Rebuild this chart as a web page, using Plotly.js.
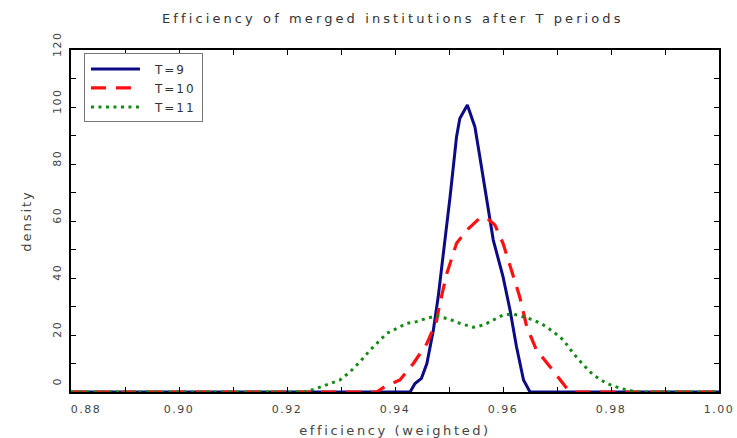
<!DOCTYPE html>
<html>
<head>
<meta charset="utf-8">
<script src="https://cdn.plot.ly/plotly-3.0.1.min.js"></script>
<style>
  html, body { margin: 0; padding: 0; background: #fff; }
  #chart { width: 737px; height: 438px; }
  .gtitle { letter-spacing: 3.1px; }
  .xtitle { letter-spacing: 2.6px; }
  .ytitle { letter-spacing: 2px; }
  .xtick text, .ytick text { letter-spacing: 1.5px; }
  .legendtext { letter-spacing: 2px; }
</style>
</head>
<body>
<div id="chart"></div>
<script>
// T = 9
const x9 = [0.880, 0.9428, 0.9437, 0.9449, 0.9459, 0.9471, 0.9480, 0.9489, 0.9502, 0.9514, 0.9520, 0.9534, 0.9548, 0.9557, 0.9570, 0.9582, 0.9600, 0.9613, 0.9625, 0.9638, 0.9650, 1.000];
const y9 = [0, 0, 3.0, 4.8, 10.0, 21.7, 33.4, 47.5, 68.5, 89.6, 96.0, 100.7, 93.0, 82.6, 67.4, 53.3, 40.5, 28.8, 15.9, 4.2, 0, 0];
// T = 10
const x10 = [0.880, 0.9366, 0.9381, 0.9409, 0.9434, 0.9459, 0.9477, 0.9483, 0.9496, 0.9514, 0.9533, 0.9557, 0.9570, 0.9585, 0.9600, 0.9616, 0.9631, 0.9644, 0.9662, 0.9687, 0.9706, 0.9718, 0.9726, 1.000];
const y10 = [0, 0, 1.9, 4.2, 10.0, 17.0, 25.0, 31.0, 41.6, 52.2, 56.8, 61.0, 61.0, 58.6, 52.2, 42.8, 33.4, 22.9, 14.7, 8.9, 4.2, 1.3, 0, 0];
// T = 11
const x11 = [0.880, 0.9230, 0.9249, 0.9273, 0.9298, 0.9317, 0.9335, 0.9354, 0.9372, 0.9385, 0.9403, 0.9422, 0.9440, 0.9459, 0.9477, 0.9502, 0.9520, 0.9545, 0.9564, 0.9582, 0.9600, 0.9619, 0.9638, 0.9656, 0.9675, 0.9693, 0.9712, 0.9730, 0.9749, 0.9767, 0.9792, 0.9817, 0.9848, 1.000];
const y11 = [0, 0, 0.9, 2.5, 4.2, 7.1, 10.6, 14.7, 18.2, 20.6, 22.3, 24.1, 24.7, 25.9, 26.7, 25.5, 24.1, 22.7, 23.5, 25.3, 27.0, 27.4, 26.4, 25.3, 23.5, 21.2, 18.2, 13.6, 9.5, 6.0, 3.0, 1.3, 0, 0];

const seriesNames = ['T=9', 'T=10', 'T=11'];
const xTickVals = [0.88, 0.90, 0.92, 0.94, 0.96, 0.98, 1.00];
const xTickText = ['0.88', '0.90', '0.92', '0.94', '0.96', '0.98', '1.00'];
const yTickVals = [0, 20, 40, 60, 80, 100, 120];
const yTickText = ['0', '20', '40', '60', '80', '100', '120'];

const fontFam = 'DejaVu Sans, Liberation Sans, sans-serif';

const traces = [
  { x: x9, y: y9, name: seriesNames[0], mode: 'lines', line: { color: '#0b0b86', width: 3 } },
  { x: x10, y: y10, name: seriesNames[1], mode: 'lines', line: { color: '#ff1010', width: 3.2, dash: '15px,10px' } },
  { x: x11, y: y11, name: seriesNames[2], mode: 'lines', line: { color: '#138a13', width: 3, dash: '3px,4.5px' } }
];

const axisCommon = {
  showgrid: false, zeroline: false, showline: true, linecolor: '#000', linewidth: 2,
  mirror: 'ticks', ticks: 'inside', ticklen: 5, tickcolor: '#000', tickwidth: 1,
  tickfont: { family: fontFam, size: 11, color: '#444' }
};

const layout = {
  width: 737, height: 438,
  margin: { l: 71, r: 18, t: 50, b: 46 },
  paper_bgcolor: '#fff', plot_bgcolor: '#fff',
  showlegend: true,
  title: { text: 'Efficiency of merged institutions after T periods', x: 0.533, xanchor: 'center', y: 0.958, yanchor: 'middle',
           font: { family: fontFam, size: 13, color: '#333' } },
  xaxis: Object.assign({}, axisCommon, {
    range: [0.88, 1.00], tickmode: 'array', tickvals: xTickVals, ticktext: xTickText,
    ticklabelstandoff: 6,
    minor: { dtick: 0.01, tick0: 0.88, ticks: 'inside', ticklen: 5, tickcolor: '#000' },
    title: { text: 'efficiency (weighted)', standoff: 11, font: { family: fontFam, size: 13, color: '#444' } }
  }),
  yaxis: Object.assign({}, axisCommon, {
    range: [0, 120], tickmode: 'array', tickvals: yTickVals, ticktext: yTickText,
    tickangle: -90, ticklabelstandoff: 4,
    minor: { dtick: 10, tick0: 0, ticks: 'inside', ticklen: 5, tickcolor: '#000' },
    title: { text: 'density', standoff: 16, font: { family: fontFam, size: 13, color: '#444' } }
  }),
  legend: {
    x: 0.02, y: 0.99, xanchor: 'left', yanchor: 'top',
    bgcolor: '#fff', bordercolor: '#777', borderwidth: 1,
    font: { family: fontFam, size: 12, color: '#333' },
    itemwidth: 60, tracegroupgap: 0
  }
};

Plotly.newPlot('chart', traces, layout, { displayModeBar: false, staticPlot: true }).then(function (gd) {
  // longer legend line samples, as in the reference
  gd.querySelectorAll('.legendlines path').forEach(function (p) { p.setAttribute('d', 'M6,0h49'); });
  // edge tick labels sit inside the frame in the reference
  const xt = gd.querySelectorAll('.xtick text');
  if (xt.length) xt[0].setAttribute('transform', (xt[0].getAttribute('transform') || '') + ' translate(15,0)');
  gd.querySelectorAll('.ytick text').forEach(function (t, i) {
    const dy = (i === 0) ? -9 : -4;
    const tr = t.getAttribute('transform') || '';
    t.setAttribute('transform', 'translate(0,' + dy + ') ' + tr);
  });
});
</script>
</body>
</html>
